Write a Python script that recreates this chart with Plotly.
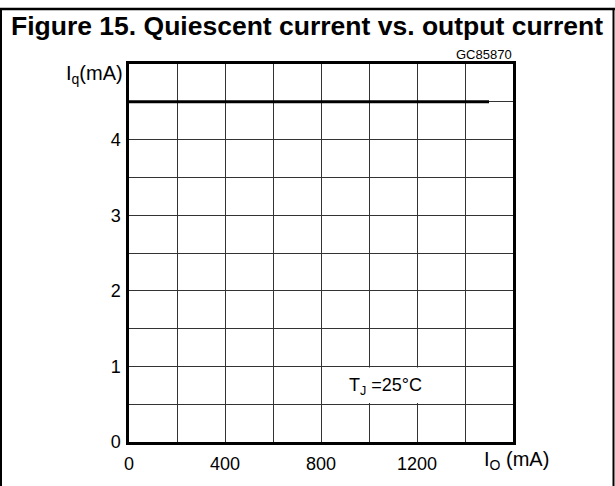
import plotly.graph_objects as go

# Data
io_ma = [0, 1500]
iq_ma = [4.5, 4.5]
x_ticks = [0, 200, 400, 600, 800, 1000, 1200, 1400, 1600]
x_ticktext = ["0", "", "400", "", "800", "", "1200", "", ""]
y_ticks = [0, 0.5, 1, 1.5, 2, 2.5, 3, 3.5, 4, 4.5, 5]
y_ticktext = ["0", "", "1", "", "2", "", "3", "", "4", "", ""]

W, H = 615, 486
L, R, T, B = 129, 513, 64, 449
pw, ph = R - L, B - T


def px(x):
    return (x - L) / pw


def py(y):
    return (B - y) / ph


FONT = "Liberation Sans"

fig = go.Figure()
fig.add_trace(go.Scatter(x=io_ma, y=iq_ma, mode="lines",
                         line=dict(color="black", width=3), showlegend=False,
                         hoverinfo="skip"))

axis_common = dict(showgrid=True, gridcolor="#333333", gridwidth=1,
                   showline=True, linecolor="black", linewidth=2.5, mirror=True,
                   zeroline=False, ticks="", tickfont=dict(family=FONT, size=18, color="black"))

fig.update_xaxes(range=[0, 1600], tickmode="array", tickvals=x_ticks,
                 ticktext=x_ticktext, ticklabelstandoff=4, **axis_common)
fig.update_yaxes(range=[0, 5], tickmode="array", tickvals=y_ticks,
                 ticktext=y_ticktext, ticklabelstandoff=2, **axis_common)

annotations = [
    dict(text="<b>Figure 15. Quiescent current vs. output current</b>",
         x=px(9), y=py(25), xref="paper", yref="paper", xanchor="left", yanchor="middle",
         showarrow=False, font=dict(family="Liberation Sans", size=26.5, color="black")),
    dict(text="GC85870", x=px(514), y=py(54), xref="paper", yref="paper",
         xanchor="right", yanchor="middle", showarrow=False,
         font=dict(family=FONT, size=13, color="black")),
    dict(text="I<sub>q</sub>(mA)", x=px(125), y=py(75), xref="paper", yref="paper",
         xanchor="right", yanchor="middle", showarrow=False,
         font=dict(family=FONT, size=20, color="black")),
    dict(text="I<sub>O</sub> (mA)", x=px(516), y=py(468), xref="paper", yref="paper",
         xanchor="center", yanchor="middle", showarrow=False,
         font=dict(family=FONT, size=20, color="black")),
    dict(text="T<sub>J</sub> =25°C", x=px(424), y=py(392), xref="paper", yref="paper",
         xanchor="right", yanchor="middle", showarrow=False,
         font=dict(family=FONT, size=18, color="black")),
]

shapes = [
    # white box behind the temperature label (masks the grid)
    dict(type="rect", xref="x", yref="y", x0=860, x1=1255, y0=0.515, y1=0.985,
         fillcolor="white", line=dict(width=0), layer="between"),
    # outer frame
    dict(type="line", xref="paper", yref="paper", x0=px(1), x1=px(1), y0=py(7), y1=py(495),
         line=dict(color="black", width=2)),
    dict(type="line", xref="paper", yref="paper", x0=px(613.5), x1=px(613.5), y0=py(7), y1=py(495),
         line=dict(color="black", width=2)),
    dict(type="line", xref="paper", yref="paper", x0=px(0), x1=px(615), y0=py(8), y1=py(8),
         line=dict(color="black", width=2.5)),
]

fig.update_layout(width=W, height=H, margin=dict(l=L, r=W - R, t=T, b=H - B),
                  paper_bgcolor="white", plot_bgcolor="white",
                  annotations=annotations, shapes=shapes)

fig.write_html("out.html", config={"displayModeBar": False},
               post_script="document.body.style.margin='0';")
